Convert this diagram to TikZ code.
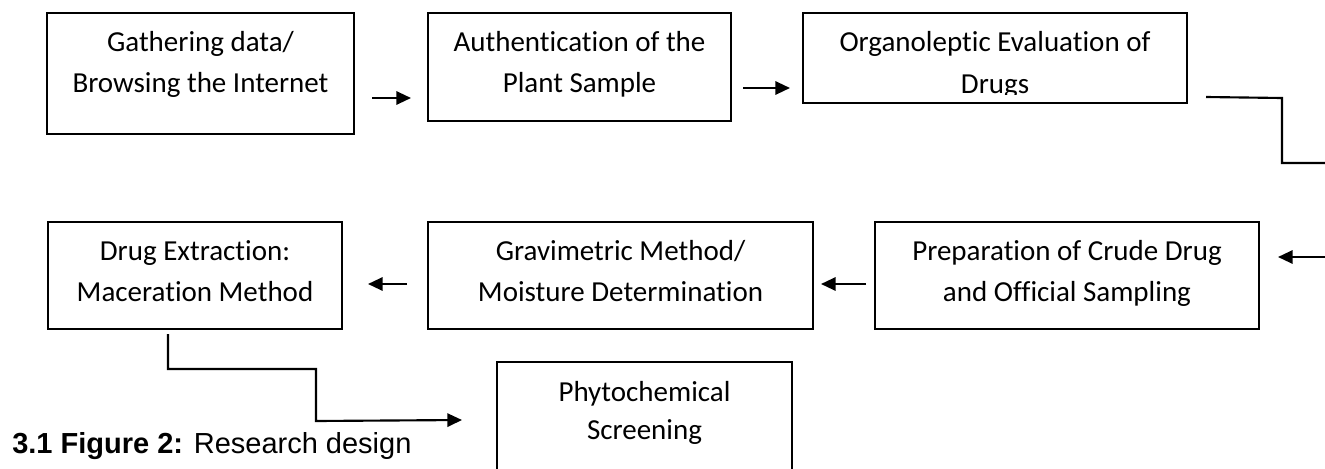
\documentclass[tikz,border=0pt]{standalone}
\usepackage{fontspec}
\setmainfont{Carlito}[Ligatures=NoCommon]
\newfontfamily\capfont{Liberation Sans}
\usetikzlibrary{calc,arrows.meta}
\begin{document}
\begin{tikzpicture}[x=0.75pt,y=-0.75pt,
  box/.style={draw=black,line width=1.5pt,rectangle,inner sep=0pt},
  txt/.style={anchor=base,inner sep=0pt,font=\fontsize{21.75pt}{26pt}\selectfont},
  lnk/.style={draw=black,line width=1.6pt},
  arr/.style={lnk,-{Triangle[length=11pt,width=10pt]}},
  captxt/.style={anchor=base west,inner sep=0pt,font=\capfont\fontsize{21.75pt}{26pt}\selectfont}]
\useasboundingbox (0,0) rectangle (1325,468);
\clip (0,0) rectangle (1325,468);
% boxes
\node[box,minimum width=230.25pt,minimum height=90.75pt] (b1) at (200.5,73.5) {};
\node[box,minimum width=227.25pt,minimum height=81pt] (b2) at (579.5,67) {};
\node[box,minimum width=288pt,minimum height=67.5pt] (b3) at (995,58) {};
\node[box,minimum width=288pt,minimum height=80.25pt] (b4) at (1067,275.5) {};
\node[box,minimum width=288.75pt,minimum height=80.25pt] (b5) at (620.5,275.5) {};
\node[box,minimum width=220.5pt,minimum height=80.25pt] (b6) at (195,275.5) {};
\node[box,minimum width=221.25pt,minimum height=103.5pt] (b7) at (644.5,431) {};
% texts
\node[txt] (t1a) at ($(b1.north)+(0,39)$) {Gathering data/};
\node[txt] (t1b) at ($(b1.north)+(0,80)$) {Browsing the Internet};
\node[txt] (t2a) at ($(b2.north)+(0,39)$) {Authentication of the};
\node[txt] (t2b) at ($(b2.north)+(0,80)$) {Plant Sample};
\node[txt] (t3a) at ($(b3.north)+(0,39)$) {Organoleptic Evaluation of};
\begin{scope}
\clip (803,13) rectangle (1187,94);
\node[txt] (t3b) at ($(b3.north)+(0,81)$) {Drugs};
\end{scope}
\node[txt] (t4a) at ($(b4.north)+(0,39)$) {Preparation of Crude Drug};
\node[txt] (t4b) at ($(b4.north)+(0,80)$) {and Official Sampling};
\node[txt] (t5a) at ($(b5.north)+(0,39)$) {Gravimetric Method/};
\node[txt] (t5b) at ($(b5.north)+(0,80)$) {Moisture Determination};
\node[txt] (t6a) at ($(b6.north)+(0,39)$) {Drug Extraction:};
\node[txt] (t6b) at ($(b6.north)+(0,80)$) {Maceration Method};
\node[txt] (t7a) at ($(b7.north)+(0,40)$) {Phytochemical};
\node[txt] (t7b) at ($(b7.north)+(0,78)$) {Screening};
% caption
\node[captxt] (capt) at (12,453) {\textbf{3.1 Figure 2:} Research design};
% free ends at the page edge
\coordinate (e1) at (1325,163);
\coordinate (e2) at (1325,257);
% connectors
\draw[arr] ($(b1.east)+(17,24.5)$) -- ($(b2.west)+(-16,31)$);
\draw[arr] ($(b2.east)+(11,21)$) -- ($(b3.west)+(-12,30)$);
\draw[lnk] ($(b3.east)+(18,39)$) -- (1282,98) -- (1282,163) -- (e1);
\draw[arr] (e2) -- ($(b4.east)+(18,-18.5)$);
\draw[arr] ($(b4.west)+(-8,8.5)$) -- ($(b5.east)+(7,8.5)$);
\draw[arr] ($(b5.west)+(-20,8.5)$) -- ($(b6.east)+(25,8.5)$);
\draw[arr] ($(b6.south)+(-27,4)$) -- (168,369) -- (316,369) -- (316,421) -- ($(b7.north west)+(-34,59)$);
\end{tikzpicture}
\end{document}
